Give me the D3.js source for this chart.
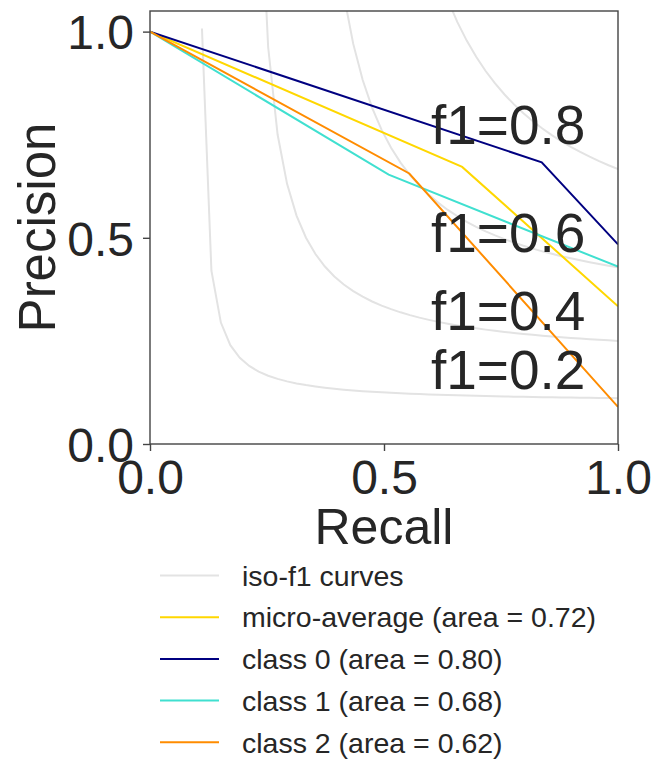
<!doctype html>
<html>
<head>
<meta charset="utf-8"/>
<script src="https://cdnjs.cloudflare.com/ajax/libs/d3/7.8.5/d3.min.js"></script>
<style>
  body { margin: 0; background: #fff; }
  text { font-family: "Liberation Sans", Arial, sans-serif; fill: #262626; }
</style>
</head>
<body>
<svg id="chart" width="667" height="760"></svg>
<script>
// precision / recall points
var microRecall = [0, 0.667, 1];
var microPrecision = [1, 0.672, 0.334];
var class0Recall = [0, 0.837, 1];
var class0Precision = [1, 0.683, 0.484];
var class1Recall = [0, 0.51, 1];
var class1Precision = [1, 0.653, 0.43];
var class2Recall = [0, 0.554, 1];
var class2Precision = [1, 0.656, 0.09];

var fScores = [0.2, 0.4, 0.6, 0.8];
var tickValues = [0, 0.5, 1];
var legendLabels = ["iso-f1 curves", "micro-average (area = 0.72)", "class 0 (area = 0.80)",
                    "class 1 (area = 0.68)", "class 2 (area = 0.62)"];
var colors = ["#e3e3e3", "gold", "navy", "turquoise", "darkorange"];

// note: "top" is reserved on window, so plot edges get other names
var plotL = 150, plotR = 618, plotT = 11, plotB = 444;

var svg = d3.select("#chart");
var xScale = d3.scaleLinear().domain([0, 1]).range([plotL, plotR]);
var yScale = d3.scaleLinear().domain([0, 1.05]).range([plotB, plotT]);

svg.append("clipPath").attr("id", "plotClip")
  .append("rect").attr("x", plotL).attr("y", plotT)
  .attr("width", plotR - plotL).attr("height", plotB - plotT);

var line = d3.line().x(function(d){ return xScale(d[0]); }).y(function(d){ return yScale(d[1]); });

var plot = svg.append("g").attr("clip-path", "url(#plotClip)");

// iso-f1 curves, same 50 sample points as the original
var xs = d3.range(50).map(function(i){ return 0.01 + i * 0.99 / 49; });
fScores.forEach(function(f){
  var pts = xs.map(function(x){ return [x, f * x / (2 * x - f)]; })
              .filter(function(p){ return p[1] >= 0; });
  plot.append("path").attr("d", line(pts))
    .attr("fill", "none").attr("stroke", colors[0]).attr("stroke-width", 2);
});

var series = [
  [microRecall, microPrecision, colors[1]],
  [class0Recall, class0Precision, colors[2]],
  [class1Recall, class1Precision, colors[3]],
  [class2Recall, class2Precision, colors[4]]
];
series.forEach(function(s){
  var pts = s[0].map(function(r, i){ return [r, s[1][i]]; });
  plot.append("path").attr("d", line(pts))
    .attr("fill", "none").attr("stroke", s[2]).attr("stroke-width", 2);
});

// f1 labels
fScores.forEach(function(f){
  var x = xs[45];
  var y = f * x / (2 * x - f) + 0.02;
  svg.append("text").attr("x", 431).attr("y", yScale(y))
    .attr("font-size", 55).text("f1=" + f.toFixed(1));
});

// frame
svg.append("rect").attr("x", plotL).attr("y", plotT)
  .attr("width", plotR - plotL).attr("height", plotB - plotT)
  .attr("fill", "none").attr("stroke", "#444").attr("stroke-width", 1.4);

// axes
var xAxis = d3.axisBottom(xScale).tickValues(tickValues).tickSize(7).tickPadding(6)
  .tickFormat(d3.format(".1f"));
var gx = svg.append("g").attr("transform", "translate(0," + plotB + ")").call(xAxis);
gx.select(".domain").remove();
gx.selectAll("line").attr("stroke", "#444").attr("stroke-width", 1.4);
gx.selectAll("text").attr("font-size", 48).attr("fill", "#262626")
  .attr("font-family", "Liberation Sans, Arial, sans-serif").attr("dy", "0.72em").attr("y", 15);

var yAxis = d3.axisLeft(yScale).tickValues(tickValues).tickSize(7).tickPadding(8)
  .tickFormat(d3.format(".1f"));
var gy = svg.append("g").attr("transform", "translate(" + plotL + ",0)").call(yAxis);
gy.select(".domain").remove();
gy.selectAll("line").attr("stroke", "#444").attr("stroke-width", 1.4);
gy.selectAll("text").attr("font-size", 48).attr("fill", "#262626")
  .attr("font-family", "Liberation Sans, Arial, sans-serif").attr("dy", "0.36em").attr("x", -16);

svg.append("text").attr("x", (plotL + plotR) / 2).attr("y", 544)
  .attr("text-anchor", "middle").attr("font-size", 50).text("Recall");
svg.append("text").attr("transform", "translate(55," + ((plotT + plotB) / 2) + ") rotate(-90)")
  .attr("text-anchor", "middle").attr("font-size", 51).text("Precision");

// legend
var legend = svg.append("g");
legendLabels.forEach(function(label, i){
  var y = 575.5 + i * 41.7;
  legend.append("line").attr("x1", 160).attr("x2", 219).attr("y1", y).attr("y2", y)
    .attr("stroke", colors[i]).attr("stroke-width", 2);
  legend.append("text").attr("x", 242).attr("y", y).attr("dy", "0.36em")
    .attr("font-size", 28.5).text(label);
});
</script>
</body>
</html>
